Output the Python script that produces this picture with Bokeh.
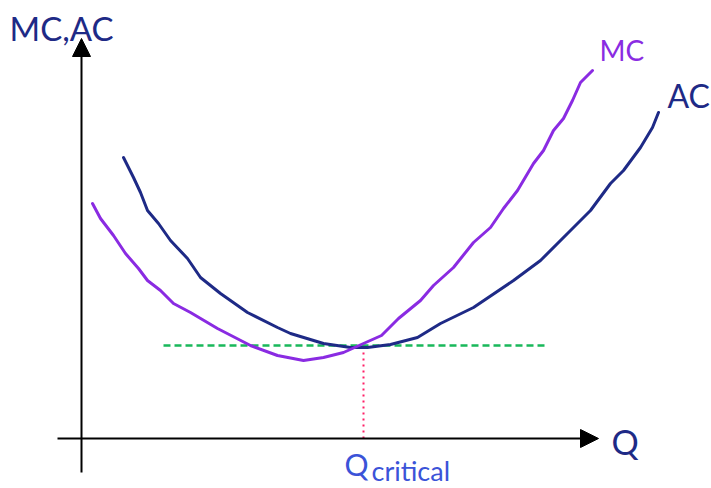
from bokeh.plotting import figure
from bokeh.models import Range1d, Arrow, NormalHead
from bokeh.core.properties import value
from bokeh.embed import file_html
from bokeh.resources import INLINE

# Quantity / cost coordinates of the two cost curves (origin at the axes' crossing)
mc_q = [11, 19, 32, 44, 57, 66, 79, 92, 109, 136, 169, 196, 222, 242, 262, 282, 300, 317,
        339, 352, 372, 392, 409, 422, 436, 452, 462, 472, 482, 491, 499, 511]
mc_c = [235, 220, 203, 185, 170, 158, 148, 135, 126, 110, 93, 83, 78, 81, 86, 95, 103, 120,
        138, 153, 171, 196, 211, 230, 248, 275, 288, 308, 320, 338, 356, 368]
ac_q = [42, 52, 59, 66, 77, 89, 106, 119, 139, 166, 196, 209, 242, 269, 286, 309, 336, 359,
        392, 432, 459, 486, 509, 529, 542, 559, 571, 577]
ac_c = [281, 261, 246, 228, 215, 198, 180, 161, 145, 126, 111, 105, 95, 91, 91, 94, 101, 115,
        131, 158, 178, 205, 228, 255, 268, 291, 311, 326]

q_critical = 282
min_ac = 93
green_q = [82, 466]

labels_text = ["MC,AC", "MC", "AC", "Q"]

p = figure(width=711, height=488, output_backend="svg", toolbar_location=None,
           x_range=Range1d(-81, 630), y_range=Range1d(-50, 438), min_border=0)
p.axis.visible = False
p.grid.visible = False
p.outline_line_color = None
p.background_fill_color = "white"

# Axes drawn as arrows
p.add_layout(Arrow(end=NormalHead(size=18, fill_color="black", line_color="black"),
                   x_start=0, y_start=-34, x_end=0, y_end=400,
                   line_color="black", line_width=2))
p.add_layout(Arrow(end=NormalHead(size=18, fill_color="black", line_color="black"),
                   x_start=-24, y_start=0, x_end=517, y_end=0,
                   line_color="black", line_width=2))

# Minimum AC level and critical quantity
p.line(green_q, [min_ac, min_ac], line_color="#19b85a", line_width=2.5, line_dash="7 4")
p.line([q_critical, q_critical], [0, min_ac], line_color="#ff1f66", line_width=2, line_dash="2 4")

# Cost curves
p.line(ac_q, ac_c, line_color="#1e2a86", line_width=3, line_join="round", line_cap="round")
p.line(mc_q, mc_c, line_color="#8a2be2", line_width=3, line_join="round", line_cap="round")

font = value("Lato")
p.text(x=[-72], y=[411], text=[labels_text[0]], text_color="#1e2a86",
       text_font=font, text_font_size="33px", text_baseline="alphabetic")
p.text(x=[518], y=[389], text=[labels_text[1]], text_color="#8a2be2",
       text_font=font, text_font_size="28px", text_baseline="alphabetic")
p.text(x=[586], y=[343], text=[labels_text[2]], text_color="#1e2a86",
       text_font=font, text_font_size="32px", text_baseline="alphabetic")
p.text(x=[530], y=[-3], text=[labels_text[3]], text_color="#1e2a86",
       text_font=font, text_font_size="34px", text_baseline="alphabetic")
p.text(x=[263], y=[-25], text=["Q"], text_color="#3b53d8",
       text_font=font, text_font_size="30px", text_baseline="alphabetic")
p.text(x=[290], y=[-32], text=["critical"], text_color="#3b53d8",
       text_font=font, text_font_size="27px", text_baseline="alphabetic")

open("out.html", "w").write(file_html(p, INLINE))
